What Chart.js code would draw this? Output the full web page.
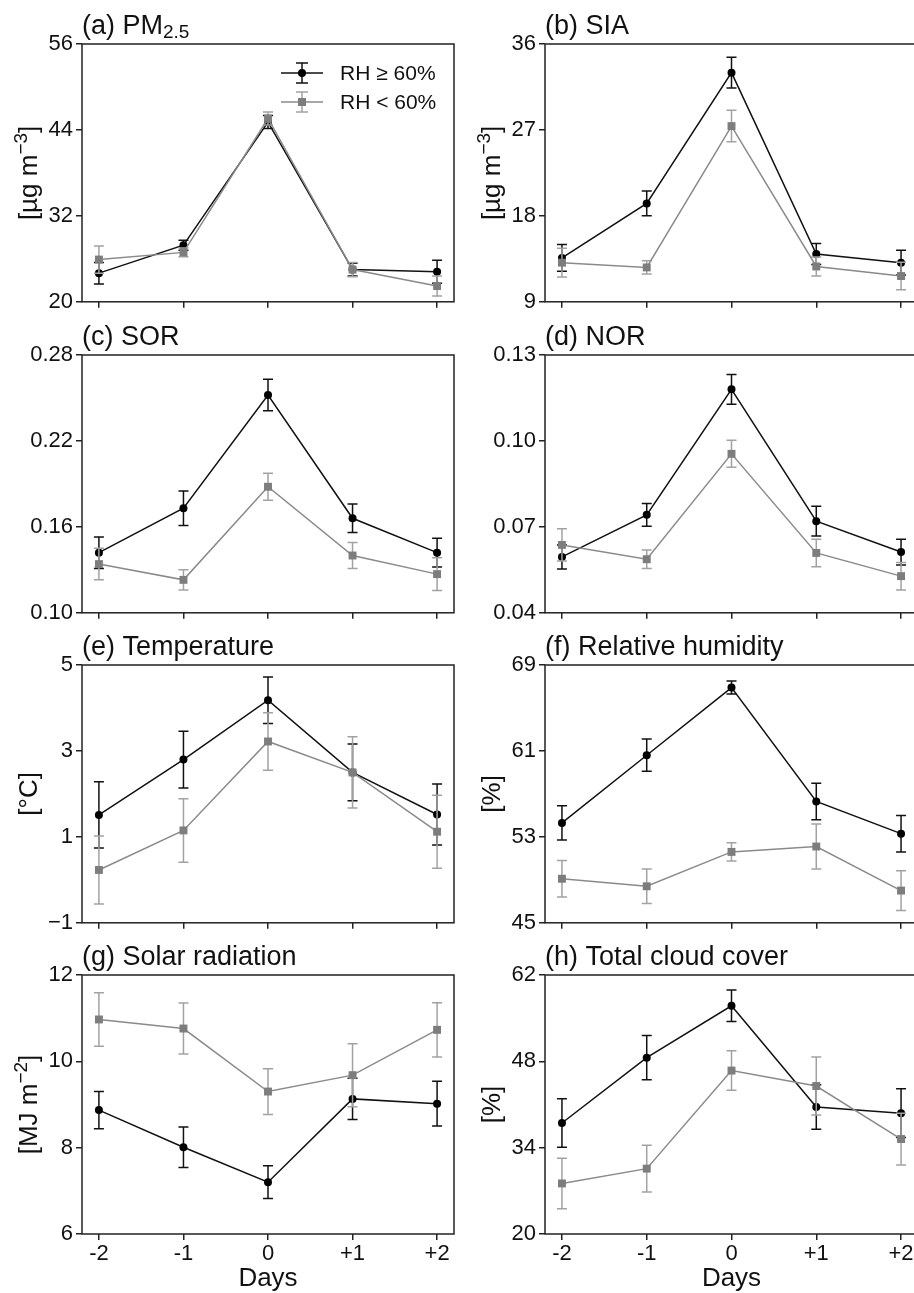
<!DOCTYPE html>
<html>
<head>
<meta charset="utf-8">
<title>Composite by RH</title>
<script src="https://cdn.jsdelivr.net/npm/chart.js@4.4.1/dist/chart.umd.min.js"></script>
<style>
  html, body { margin: 0; padding: 0; background: #fff; overflow: hidden; }
  #fig { position: relative; width: 914px; height: 1293px; overflow: hidden; }
  #fig canvas { position: absolute; }
</style>
</head>
<body>
<div id="fig"></div>
<script>
const days = [-2, -1, 0, 1, 2];
const dayLabels = ['-2', '-1', '0', '+1', '+2'];
const seriesLabels = ['RH \u2265 60%', 'RH < 60%'];

// (a) PM2.5
const pmHigh = [24.0, 27.9, 45.1, 24.5, 24.2];
const pmHighErr = [1.5, 0.7, 0.9, 0.9, 1.6];
const pmLow = [25.9, 26.9, 45.6, 24.5, 22.2];
const pmLowErr = [1.9, 0.6, 0.9, 1.0, 1.4];
const pmTicks = [20, 32, 44, 56];

// (b) SIA
const siaHigh = [13.6, 19.3, 33.0, 14.0, 13.1];
const siaHighErr = [1.4, 1.3, 1.6, 1.1, 1.3];
const siaLow = [13.1, 12.6, 27.4, 12.7, 11.7];
const siaLowErr = [1.5, 0.7, 1.65, 1.0, 1.45];
const siaTicks = [9, 18, 27, 36];

// (c) SOR
const sorHigh = [0.142, 0.173, 0.252, 0.166, 0.142];
const sorHighErr = [0.011, 0.012, 0.011, 0.010, 0.010];
const sorLow = [0.134, 0.123, 0.188, 0.140, 0.127];
const sorLowErr = [0.011, 0.007, 0.0095, 0.009, 0.0115];
const sorTicks = [0.10, 0.16, 0.22, 0.28];

// (d) NOR
const norHigh = [0.0595, 0.0742, 0.118, 0.072, 0.0612];
const norHighErr = [0.0042, 0.004, 0.0052, 0.0052, 0.0045];
const norLow = [0.0637, 0.0587, 0.0955, 0.0609, 0.0528];
const norLowErr = [0.0056, 0.0032, 0.0047, 0.0048, 0.0048];
const norTicks = [0.04, 0.07, 0.10, 0.13];

// (e) Temperature
const tHigh = [1.51, 2.80, 4.18, 2.50, 1.52];
const tHighErr = [0.77, 0.66, 0.54, 0.66, 0.71];
const tLow = [0.23, 1.15, 3.22, 2.50, 1.12];
const tLowErr = [0.79, 0.74, 0.67, 0.83, 0.85];
const tTicks = [-1, 1, 3, 5];

// (f) Relative humidity
const rhHigh = [54.3, 60.6, 66.9, 56.3, 53.3];
const rhHighErr = [1.6, 1.5, 0.6, 1.7, 1.7];
const rhLow = [49.1, 48.4, 51.6, 52.1, 48.0];
const rhLowErr = [1.7, 1.6, 0.85, 2.1, 1.85];
const rhTicks = [45, 53, 61, 69];

// (g) Solar radiation
const srHigh = [8.87, 8.01, 7.20, 9.13, 9.02];
const srHighErr = [0.43, 0.47, 0.38, 0.48, 0.52];
const srLow = [10.97, 10.76, 9.30, 9.68, 10.73];
const srLowErr = [0.62, 0.59, 0.53, 0.73, 0.63];
const srTicks = [6, 8, 10, 12];

// (h) Total cloud cover
const tccHigh = [38.0, 48.6, 57.0, 40.6, 39.6];
const tccHighErr = [3.95, 3.6, 2.55, 3.6, 3.95];
const tccLow = [28.2, 30.6, 46.5, 44.0, 35.4];
const tccLowErr = [4.1, 3.8, 3.2, 4.7, 4.2];
const tccTicks = [20, 34, 48, 62];

// text pieces: 0 normal, -1 subscript, 1 superscript
const ugLabel = [['[\u00b5g m', 0], ['\u22123', 1], [']', 0]];
const mjLabel = [['[MJ m', 0], ['\u22122', 1], [']', 0]];

const panels = [
  { title: [['(a) PM', 0], ['2.5', -1]], ylab: ugLabel, high: pmHigh, highErr: pmHighErr, low: pmLow, lowErr: pmLowErr, ticks: pmTicks, dec: 0, legend: true },
  { title: [['(b) SIA', 0]], ylab: ugLabel, high: siaHigh, highErr: siaHighErr, low: siaLow, lowErr: siaLowErr, ticks: siaTicks, dec: 0 },
  { title: [['(c) SOR', 0]], ylab: null, high: sorHigh, highErr: sorHighErr, low: sorLow, lowErr: sorLowErr, ticks: sorTicks, dec: 2 },
  { title: [['(d) NOR', 0]], ylab: null, high: norHigh, highErr: norHighErr, low: norLow, lowErr: norLowErr, ticks: norTicks, dec: 2 },
  { title: [['(e) Temperature', 0]], ylab: [['[\u00b0C]', 0]], high: tHigh, highErr: tHighErr, low: tLow, lowErr: tLowErr, ticks: tTicks, dec: 0 },
  { title: [['(f) Relative humidity', 0]], ylab: [['[%]', 0]], high: rhHigh, highErr: rhHighErr, low: rhLow, lowErr: rhLowErr, ticks: rhTicks, dec: 0 },
  { title: [['(g) Solar radiation', 0]], ylab: mjLabel, high: srHigh, highErr: srHighErr, low: srLow, lowErr: srLowErr, ticks: srTicks, dec: 0 },
  { title: [['(h) Total cloud cover', 0]], ylab: [['[%]', 0]], high: tccHigh, highErr: tccHighErr, low: tccLow, lowErr: tccLowErr, ticks: tccTicks, dec: 0 }
];

const FONT = '"Liberation Sans", Arial, sans-serif';
const BLACK = '#111';
const GREY_LINE = '#8a8a8a';
const GREY_MARK = '#7d7d7d';
const GREY_ERR = '#a2a2a2';

// figure geometry
const plotTop = [44, 355, 665, 975];
const plotBottom = [302, 613, 923, 1234];
const colLeft = [0, 460];
const colWidth = [460, 470];
const yAxisW = [82, 85];
const rightPad = [6, 12];

function drawRich(ctx, parts, x, y, size) {
  let cx = x;
  for (const [txt, kind] of parts) {
    const fs = kind === 0 ? size : Math.round(size * 0.72);
    ctx.font = fs + 'px ' + FONT;
    const dy = kind === -1 ? size * 0.14 : kind === 1 ? -size * 0.4 : 0;
    ctx.fillText(txt, cx, y + dy);
    cx += ctx.measureText(txt).width;
  }
}

function richWidth(ctx, parts, size) {
  let w = 0;
  for (const [txt, kind] of parts) {
    const fs = kind === 0 ? size : Math.round(size * 0.72);
    ctx.font = fs + 'px ' + FONT;
    w += ctx.measureText(txt).width;
  }
  return w;
}

function drawErrorBar(ctx, x, yTop, yBot, color, cap) {
  ctx.strokeStyle = color;
  ctx.lineWidth = 1.5;
  ctx.beginPath();
  ctx.moveTo(x, yTop); ctx.lineTo(x, yBot);
  ctx.moveTo(x - cap, yTop); ctx.lineTo(x + cap, yTop);
  ctx.moveTo(x - cap, yBot); ctx.lineTo(x + cap, yBot);
  ctx.stroke();
}

// box around the plot area
const framePlugin = {
  id: 'frame',
  beforeDatasetsDraw(chart) {
    const a = chart.chartArea, ctx = chart.ctx;
    ctx.save();
    ctx.strokeStyle = '#222';
    ctx.lineWidth = 1.5;
    ctx.strokeRect(a.left, a.top, a.right - a.left, a.bottom - a.top);
    ctx.restore();
  }
};

// error bars, drawn just under each dataset
const errorBarPlugin = {
  id: 'errorBars',
  beforeDatasetDraw(chart, args) {
    const ds = chart.data.datasets[args.index];
    if (!ds.errors) return;
    const xs = chart.scales.x, ys = chart.scales.y, ctx = chart.ctx;
    ctx.save();
    ds.data.forEach((pt, i) => {
      const x = xs.getPixelForValue(pt.x);
      const top = ys.getPixelForValue(pt.y + ds.errors[i]);
      const bot = ys.getPixelForValue(pt.y - ds.errors[i]);
      drawErrorBar(ctx, x, top, bot, ds.errColor, 5);
    });
    ctx.restore();
  }
};

function makeTextPlugin(p) {
  return {
    id: 'panelText',
    afterDraw(chart) {
      const a = chart.chartArea, ctx = chart.ctx;
      ctx.save();
      ctx.fillStyle = BLACK;
      ctx.textBaseline = 'alphabetic';
      ctx.textAlign = 'left';
      drawRich(ctx, p.title, a.left, a.top - 10, 27);

      if (p.ylab) {
        const w = richWidth(ctx, p.ylab, 26);
        ctx.translate(a.left - 54, (a.top + a.bottom) / 2);
        ctx.rotate(-Math.PI / 2);
        drawRich(ctx, p.ylab, -w / 2, 9, 26);
        ctx.setTransform(1, 0, 0, 1, 0, 0);
      }

      if (p.legend) {
        const styles = [
          { line: BLACK, mark: '#000', err: BLACK, shape: 'circle' },
          { line: GREY_LINE, mark: GREY_MARK, err: GREY_ERR, shape: 'rect' }
        ];
        styles.forEach((s, i) => {
          const y = a.top + 29 + i * 29;
          const x0 = a.right - 173, x1 = a.right - 131, xm = a.right - 152;
          drawErrorBar(ctx, xm, y - 10, y + 10, s.err, 6);
          ctx.strokeStyle = s.line;
          ctx.lineWidth = 1.5;
          ctx.beginPath(); ctx.moveTo(x0, y); ctx.lineTo(x1, y); ctx.stroke();
          ctx.fillStyle = s.mark;
          if (s.shape === 'circle') {
            ctx.beginPath(); ctx.arc(xm, y, 4, 0, Math.PI * 2); ctx.fill();
          } else {
            ctx.fillRect(xm - 4, y - 4, 8, 8);
          }
          ctx.fillStyle = BLACK;
          ctx.font = '21px ' + FONT;
          ctx.textBaseline = 'middle';
          ctx.fillText(seriesLabels[i], a.right - 114, y + 1);
        });
      }
      ctx.restore();
    }
  };
}

const fig = document.getElementById('fig');

panels.forEach((p, idx) => {
  const col = idx % 2, row = Math.floor(idx / 2);
  const xAxisH = row === 3 ? 60 : 16;
  const canvas = document.createElement('canvas');
  canvas.width = colWidth[col];
  canvas.height = plotBottom[row] - plotTop[row] + 44 + xAxisH;
  canvas.style.left = colLeft[col] + 'px';
  canvas.style.top = (plotTop[row] - 44) + 'px';
  fig.appendChild(canvas);

  const toPoints = arr => arr.map((v, i) => ({ x: days[i], y: v }));
  const yMin = p.ticks[0], yMax = p.ticks[p.ticks.length - 1];

  new Chart(canvas, {
    type: 'line',
    data: {
      datasets: [
        {
          label: seriesLabels[0], data: toPoints(p.high), errors: p.highErr, errColor: BLACK,
          borderColor: BLACK, borderWidth: 1.5, pointStyle: 'circle', pointRadius: 4,
          pointBackgroundColor: '#000', pointBorderColor: '#000', pointBorderWidth: 0,
          order: 1, clip: false
        },
        {
          label: seriesLabels[1], data: toPoints(p.low), errors: p.lowErr, errColor: GREY_ERR,
          borderColor: GREY_LINE, borderWidth: 1.5, pointStyle: 'rect', pointRadius: 5.6,
          pointBackgroundColor: GREY_MARK, pointBorderColor: GREY_MARK, pointBorderWidth: 0,
          order: 0, clip: false
        }
      ]
    },
    options: {
      responsive: false,
      animation: false,
      layout: { padding: { top: 44, left: 0, right: rightPad[col], bottom: 0 } },
      plugins: { legend: { display: false }, tooltip: { enabled: false } },
      scales: {
        x: {
          type: 'linear', min: -2.2, max: 2.2,
          afterBuildTicks: s => { s.ticks = days.map(v => ({ value: v })); },
          afterFit: s => { s.height = xAxisH; },
          ticks: {
            display: row === 3, autoSkip: false, maxRotation: 0, padding: 1, color: BLACK,
            font: { family: FONT, size: 22 },
            callback: (v, i) => dayLabels[i]
          },
          grid: { drawOnChartArea: false, drawTicks: true, tickLength: 6, color: '#222', lineWidth: 1.5 },
          border: { display: false },
          title: {
            display: row === 3, text: 'Days', color: BLACK,
            font: { family: FONT, size: 26 }, padding: { top: 0, bottom: 0 }
          }
        },
        y: {
          type: 'linear', min: yMin, max: yMax,
          afterBuildTicks: s => { s.ticks = p.ticks.map(v => ({ value: v })); },
          afterFit: s => { s.width = yAxisW[col]; },
          ticks: {
            color: BLACK, padding: 3,
            font: { family: FONT, size: 22 },
            callback: v => (v < 0 ? '\u2212' + Math.abs(v).toFixed(p.dec) : v.toFixed(p.dec))
          },
          grid: { drawOnChartArea: false, drawTicks: true, tickLength: 6, color: '#222', lineWidth: 1.5 },
          border: { display: false }
        }
      }
    },
    plugins: [framePlugin, errorBarPlugin, makeTextPlugin(p)]
  });
});
</script>
</body>
</html>
